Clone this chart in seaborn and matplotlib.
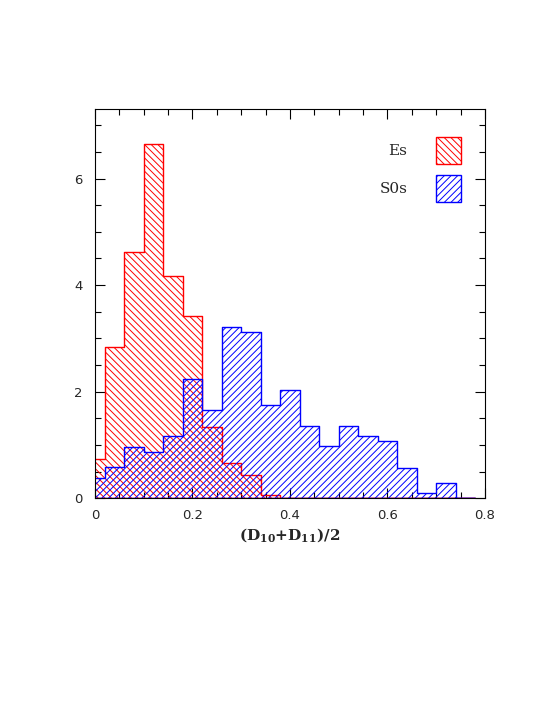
import numpy as np
import pandas as pd
import seaborn as sns
import matplotlib.pyplot as plt
from matplotlib.patches import Patch
from matplotlib.ticker import MultipleLocator, FuncFormatter

# bin edges (first bin clipped at 0 by the axis)
bin_edges = [-0.02, 0.02, 0.06, 0.10, 0.14, 0.18, 0.22, 0.26, 0.30, 0.34,
             0.38, 0.42, 0.46, 0.50, 0.54, 0.58, 0.62, 0.66, 0.70, 0.74, 0.78]

es_heights = [0.74, 2.83, 4.62, 6.65, 4.18, 3.43, 1.34, 0.66, 0.44, 0.07,
              0, 0, 0, 0, 0, 0, 0, 0, 0, 0]
s0_heights = [0.39, 0.58, 0.97, 0.875, 1.16, 2.24, 1.66, 3.22, 3.12, 1.75,
              2.04, 1.36, 0.975, 1.36, 1.16, 1.07, 0.575, 0.094, 0.29, 0]

labels = ["Es", "S0s"]
colors = ["red", "blue"]
hatches = ["\\" * 5, "/" * 5]

centers = [(a + b) / 2 for a, b in zip(bin_edges[:-1], bin_edges[1:])]
df = pd.DataFrame({
    "x": centers * 2,
    "w": es_heights + s0_heights,
    "type": ["Es"] * len(centers) + ["S0s"] * len(centers),
})

sns.set_style("ticks")
plt.rcParams["hatch.linewidth"] = 0.7
plt.rcParams["mathtext.default"] = "regular"

fig = plt.figure(figsize=(5.45, 7.05), dpi=100)
ax = fig.add_axes([0.1743, 0.2932, 0.7156, 0.5518])

for lab, col, hat in zip(labels, colors, hatches):
    sub = df[df["type"] == lab]
    n_before = len(ax.collections)
    sns.histplot(data=sub, x="x", weights="w", bins=bin_edges, element="step",
                 fill=True, stat="count", ax=ax, color=col)
    for coll in ax.collections[n_before:]:
        coll.set_facecolor("none")
        coll.set_edgecolor(col)
        coll.set_hatch(hat)
        coll.set_linewidth(1.0)

ax.set_xlim(0, 0.8)
ax.set_ylim(0, 7.3)
ax.xaxis.set_major_locator(MultipleLocator(0.2))
ax.xaxis.set_minor_locator(MultipleLocator(0.05))
ax.yaxis.set_major_locator(MultipleLocator(2))
ax.yaxis.set_minor_locator(MultipleLocator(0.5))
ax.xaxis.set_major_formatter(FuncFormatter(lambda v, p: "0" if abs(v) < 1e-9 else f"{v:.1f}"))
ax.yaxis.set_major_formatter(FuncFormatter(lambda v, p: f"{v:.0f}"))
ax.tick_params(which="both", direction="in", top=True, right=True,
               labelsize=9.5, color="black", width=0.8)
ax.tick_params(which="major", length=7)
ax.tick_params(which="minor", length=4)
ax.tick_params(axis="x", which="major", pad=8)
ax.tick_params(axis="y", which="major", pad=9)
for s in ax.spines.values():
    s.set_color("black")
    s.set_linewidth(0.8)

ax.set_xlabel("(D$_{10}$+D$_{11}$)/2", fontfamily="DejaVu Serif",
              fontweight="bold", fontsize=11, labelpad=3)
ax.set_ylabel("")

handles = [Patch(facecolor="none", edgecolor=c, hatch=h, linewidth=1.0)
           for c, h in zip(colors, hatches)]
ax.legend(handles, labels, loc="upper right", frameon=False, markerfirst=False,
          handlelength=1.65, handleheight=2.4, labelspacing=0.7,
          prop={"family": "DejaVu Serif", "size": 11},
          bbox_to_anchor=(0.975, 0.965), handletextpad=1.9)

fig.savefig("out.png", dpi=100)
